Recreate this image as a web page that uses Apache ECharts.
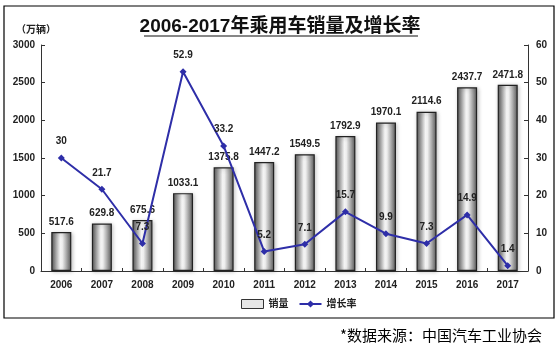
<html>
<head>
    <meta charset="utf-8"/>
    <title>2006-2017年乘用车销量及增长率</title>
    <script src="https://cdn.jsdelivr.net/npm/echarts@6/dist/echarts.min.js"></script>
    <style>
        body { margin: 0; background: #fff; }
        #main { width: 560px; height: 352px; }
    </style>
</head>
<body>
<div id="main"></div>
<script type="text/javascript">
    var years = ['2006', '2007', '2008', '2009', '2010', '2011', '2012', '2013', '2014', '2015', '2016', '2017'];
    var sales = [517.6, 629.8, 675.6, 1033.1, 1375.8, 1447.2, 1549.5, 1792.9, 1970.1, 2114.6, 2437.7, 2471.8];
    var growth = [30, 21.7, 7.3, 52.9, 33.2, 5.2, 7.1, 15.7, 9.9, 7.3, 14.9, 1.4];

    var myChart = echarts.init(document.getElementById('main'));
    var font = '"Liberation Sans", Arial, "Noto Sans CJK SC", sans-serif';

    var option = {
        animation: false,
        textStyle: { fontFamily: font },
        title: {
            text: '2006-2017年乘用车销量及增长率',
            left: 'center',
            top: 12,
            textStyle: { fontSize: 19, fontWeight: 'bold', color: '#111', fontFamily: font }
        },
        graphic: [
            { type: 'rect', shape: { x: 4, y: 6, width: 550, height: 312 },
              style: { fill: 'none', stroke: '#000', lineWidth: 1.2 } },
            { type: 'line', shape: { x1: 144, y1: 36, x2: 418, y2: 36 },
              style: { stroke: '#111', lineWidth: 1.2 } },
            { type: 'text', left: 16, top: 24,
              style: { text: '（万辆）', font: 'bold 10px "Noto Sans CJK SC"', fill: '#222' } },
            { type: 'text', left: 340, top: 328,
              style: { text: '*数据来源：中国汽车工业协会', font: '15px "Noto Sans CJK SC"', fill: '#000' } }
        ],
        legend: {
            bottom: 38,
            left: 236,
            itemWidth: 22,
            itemHeight: 9,
            itemGap: 10,
            textStyle: { fontSize: 10, fontWeight: 'bold', color: '#222' },
            data: [
                { name: '销量', icon: 'rect', itemStyle: { color: '#e6e6e6', borderColor: '#333', borderWidth: 1 } },
                { name: '增长率' }
            ]
        },
        grid: { left: 41, right: 32, top: 45, bottom: 81 },
        xAxis: {
            type: 'category',
            data: years,
            axisLine: { lineStyle: { color: '#333', width: 1 } },
            axisTick: { show: true, alignWithLabel: false, inside: true, length: 3, lineStyle: { color: '#333' } },
            axisLabel: { fontSize: 10, fontWeight: 'bold', color: '#222', margin: 9 }
        },
        yAxis: [
            {
                type: 'value', min: 0, max: 3000, interval: 500,
                axisLine: { show: true, lineStyle: { color: '#333' } },
                axisTick: { show: true, inside: true, length: 4, lineStyle: { color: '#333' } },
                splitLine: { show: false },
                axisLabel: { fontSize: 10, fontWeight: 'bold', color: '#222', margin: 6,
                    formatter: function (v) { return String(v); } }
            },
            {
                type: 'value', min: 0, max: 60, interval: 10,
                position: 'right',
                axisLine: { show: true, lineStyle: { color: '#333' } },
                axisTick: { show: true, inside: true, length: 4, lineStyle: { color: '#333' } },
                splitLine: { show: false },
                axisLabel: { fontSize: 10, fontWeight: 'bold', color: '#222', margin: 8 }
            }
        ],
        series: [
            {
                name: '销量',
                type: 'bar',
                barWidth: 20,
                data: sales,
                itemStyle: {
                    borderColor: '#222',
                    borderWidth: 1.2,
                    shadowColor: 'rgba(0,0,0,0.25)',
                    shadowBlur: 4,
                    shadowOffsetX: 1,
                    shadowOffsetY: 1,
                    color: new echarts.graphic.LinearGradient(0, 0, 1, 0, [
                        { offset: 0, color: '#555' },
                        { offset: 0.45, color: '#f4f4f4' },
                        { offset: 0.55, color: '#eeeeee' },
                        { offset: 1, color: '#5a5a5a' }
                    ])
                },
                label: {
                    show: true, position: 'top', distance: 5,
                    fontSize: 10, fontWeight: 'bold', color: '#222'
                }
            },
            {
                name: '增长率',
                type: 'line',
                yAxisIndex: 1,
                data: growth,
                symbol: 'diamond',
                symbolSize: 7,
                lineStyle: { color: '#2e2ea8', width: 2 },
                itemStyle: { color: '#2e2ea8' },
                label: {
                    show: true, position: 'top', distance: 8,
                    fontSize: 10, fontWeight: 'bold', color: '#222'
                }
            }
        ]
    };

    myChart.setOption(option);
</script>
</body>
</html>
